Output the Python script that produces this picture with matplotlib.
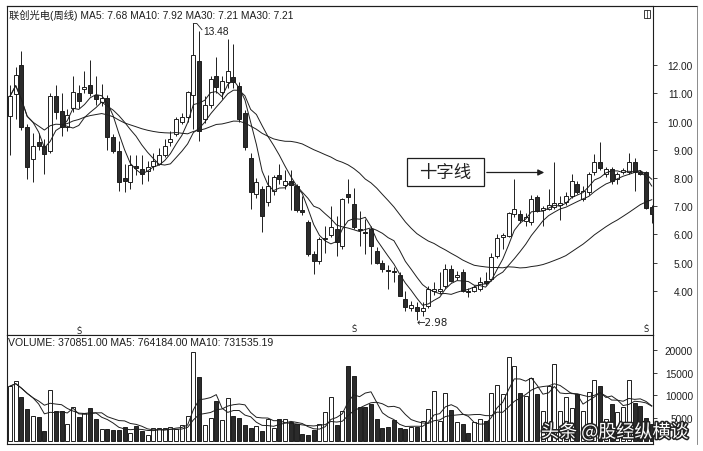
import numpy as np
import pandas as pd
import matplotlib
matplotlib.use('Agg')
import matplotlib.pyplot as plt
from matplotlib.patches import Rectangle, FancyArrowPatch
from matplotlib.lines import Line2D
import matplotlib.patheffects as pe

# ---------------- data (weekly candles) ----------------
opens = [10.2, 10.98, 12.0, 9.8, 8.67, 9.27, 9.15, 8.97, 10.92, 10.39,
         9.8, 10.5, 11.0, 11.15, 11.3, 10.95, 10.7, 10.85, 9.45, 8.95,
         8.0, 7.85, 8.42, 8.32, 8.26, 8.44, 8.5, 8.8, 9.27, 9.56,
         9.97, 10.15, 10.95, 12.15, 10.1, 10.6, 11.63, 11.04, 11.39, 11.57,
         11.25, 10.3, 8.7, 7.43, 7.6, 7.14, 7.55, 8.1, 7.75, 7.9,
         7.73, 6.85, 6.45, 5.3, 5.07, 5.82, 5.98, 6.2, 5.6, 7.42,
         7.08, 6.2, 6.1, 6.2, 5.42, 5.0, 4.72, 4.68, 4.55, 3.71,
         3.38, 3.41, 3.3, 3.47, 4.0, 4.0, 4.18, 4.77, 4.48, 4.65,
         3.98, 4.0, 4.06, 4.32, 4.42, 5.22, 5.9, 5.96, 6.72, 6.72,
         6.49, 6.43, 7.31, 6.88, 6.9, 6.96, 7.06, 7.14, 7.37, 7.8,
         7.26, 7.5, 8.2, 8.56, 8.14, 8.32, 7.97, 8.22, 8.2, 8.56,
         8.22, 8.2, 6.96]
highs = [11.3, 11.95, 12.5, 9.9, 9.6, 9.6, 9.4, 11.0, 11.3, 11.0,
         10.45, 11.63, 11.3, 11.8, 12.2, 11.6, 11.35, 10.95, 9.55, 9.3,
         8.5, 8.8, 8.8, 8.8, 8.6, 8.9, 9.05, 9.4, 9.68, 10.15,
         10.3, 11.1, 13.48, 13.2, 10.9, 11.6, 12.28, 11.6, 12.93, 12.75,
         11.4, 10.4, 8.9, 8.0, 7.7, 8.1, 8.1, 8.5, 8.3, 8.3,
         7.8, 7.35, 6.5, 5.4, 5.9, 6.3, 7.0, 6.66, 7.3, 7.95,
         7.65, 6.84, 6.55, 6.3, 5.55, 5.1, 4.9, 4.85, 4.65, 4.0,
         3.65, 3.6, 3.6, 4.18, 4.3, 4.65, 4.95, 4.9, 4.7, 4.78,
         4.1, 4.2, 4.48, 4.65, 5.35, 6.0, 6.05, 6.8, 7.97, 6.85,
         6.75, 7.4, 7.4, 7.0, 7.6, 8.56, 7.37, 7.5, 8.15, 7.9,
         7.7, 8.2, 8.85, 9.27, 8.4, 8.4, 8.2, 8.35, 8.9, 8.7,
         8.3, 8.25, 7.06]
lows = [8.8, 10.1, 9.7, 7.95, 7.85, 9.0, 8.15, 8.9, 10.1, 9.5,
        9.65, 10.33, 10.5, 11.0, 10.9, 10.6, 10.55, 9.0, 8.9, 7.55,
        7.5, 7.6, 8.1, 7.8, 7.9, 8.3, 8.45, 8.75, 9.15, 9.5,
        9.9, 10.0, 9.75, 9.3, 9.95, 10.5, 11.0, 10.8, 11.2, 11.2,
        10.0, 9.0, 6.9, 7.3, 6.1, 7.0, 7.4, 7.8, 7.6, 6.85,
        6.8, 6.7, 5.25, 4.6, 4.95, 5.35, 5.9, 5.25, 5.5, 7.1,
        6.2, 5.6, 5.3, 4.95, 4.95, 4.65, 4.05, 4.3, 3.8, 3.3,
        3.3, 2.98, 3.1, 3.4, 3.85, 3.9, 4.1, 4.3, 4.4, 3.95,
        3.78, 3.95, 4.0, 4.2, 4.35, 5.15, 5.5, 5.9, 6.6, 6.4,
        6.3, 6.35, 6.8, 6.3, 6.85, 6.9, 6.5, 7.05, 7.3, 7.45,
        7.2, 7.4, 8.1, 8.3, 8.05, 7.78, 7.78, 8.15, 8.15, 7.55,
        8.1, 6.9, 6.4]
closes = [10.9, 11.65, 9.8, 8.4, 9.15, 9.15, 8.85, 10.92, 10.35, 9.8,
          10.25, 11.04, 10.72, 11.22, 11.0, 10.8, 10.85, 9.45, 8.95, 7.85,
          7.9, 8.45, 8.35, 8.14, 8.4, 8.6, 8.8, 9.15, 9.38, 10.09,
          10.15, 11.04, 12.35, 9.65, 10.6, 11.5, 11.22, 11.45, 11.8, 11.39,
          10.1, 9.1, 7.5, 7.86, 6.65, 7.73, 8.02, 7.96, 7.9, 7.75,
          6.85, 6.78, 5.3, 5.07, 5.84, 5.86, 6.25, 5.72, 7.26, 7.32,
          6.25, 6.15, 6.05, 5.6, 5.0, 4.78, 4.7, 4.66, 3.83, 3.41,
          3.5, 3.3, 3.4, 4.06, 4.05, 4.06, 4.77, 4.36, 4.56, 4.0,
          3.95, 4.12, 4.3, 4.28, 5.2, 5.88, 5.97, 6.75, 6.9, 6.5,
          6.6, 7.26, 6.84, 6.92, 7.04, 7.1, 7.1, 7.37, 7.9, 7.5,
          7.55, 8.14, 8.56, 8.34, 8.32, 7.9, 8.14, 8.28, 8.56, 8.2,
          8.14, 6.95, 6.72]
volumes = [12060, 13170, 9620, 7030, 5550, 5180, 2220, 11320, 6660, 6660,
           3700, 7400, 5180, 6140, 7180, 4810, 2500, 2600, 2300, 2440,
           2960, 1700, 3180, 2000, 1330, 2740, 2740, 2740, 2960, 2590,
           3480, 5400, 19700, 14060, 3480, 5030, 8660, 4660, 9400, 5550,
           5030, 3550, 2810, 3330, 2070, 4810, 2740, 4810, 4810, 4070,
           3700, 1480, 1330, 2440, 3700, 6290, 9620, 3480, 6660, 16650,
           14350, 7500, 7500, 8050, 4880, 2780, 2960, 4550, 2780, 2500,
           2960, 3040, 4440, 7030, 10880, 4440, 10650, 6730, 4070, 3620,
           1630, 4070, 4730, 4440, 10650, 12360, 10360, 18500, 16500, 10580,
           9990, 13840, 10360, 6660, 12060, 17020, 6660, 9620, 7250, 10360,
           6500, 10730, 13540, 12210, 4810, 8140, 6290, 7330, 13500, 8300,
           7600, 5000, 3709]

title_text = "联创光电(周线) MA5: 7.68 MA10: 7.92 MA30: 7.21 MA30: 7.21"
vol_text = "VOLUME: 370851.00 MA5: 764184.00 MA10: 731535.19"
price_ticks = [4, 5, 6, 7, 8, 9, 10, 11, 12]
price_labels = [f"{v:.2f}" for v in price_ticks]
vol_ticks = [5000, 10000, 15000, 20000]
vol_labels = [str(v) for v in vol_ticks]
callout_text = "十字线"
watermark = "头条 @股经纵横谈"

# ---------------- figure ----------------
W, H = 703, 452
fig = plt.figure(figsize=(W / 100, H / 100), dpi=100)
fig.patch.set_facecolor('white')
FAM = ['Liberation Sans', 'Noto Sans CJK SC', 'DejaVu Sans']
plt.rcParams['font.family'] = FAM

def fx(x):
    return x / W

def fy(y):
    return 1 - y / H

LEFT, RIGHT, TOP, MID, BOT = 7, 653, 7, 336, 445
ax = fig.add_axes([fx(LEFT), fy(MID), (RIGHT - LEFT) / W, (MID - TOP) / H])
axv = fig.add_axes([fx(LEFT), fy(BOT), (RIGHT - LEFT) / W, (BOT - MID) / H])

n = len(closes)
x = np.arange(n)
o = np.array(opens); c = np.array(closes)
hi = np.array(highs); lo = np.array(lows)
up = c >= o
INK = '#1e1e1e'
DARK = '#2b2b2b'

# wicks
ax.vlines(x, lo, hi, color=INK, lw=0.7, zorder=2)
# bodies
bottom = np.minimum(o, c)
height = np.maximum(np.abs(c - o), 0.05)
ax.bar(x, height, bottom=bottom, width=0.7,
       color=np.where(up, 'white', DARK), edgecolor=INK, linewidth=0.7, zorder=3)

s = pd.Series(closes)
ma5 = s.rolling(5, min_periods=1).mean()
ma10 = s.rolling(10, min_periods=1).mean()
ma30 = s.rolling(30, min_periods=10).mean()
for m in (ma5, ma10, ma30):
    ax.plot(x, m, color=INK, lw=0.7, zorder=4)

xmin = (LEFT - 10) / 5.73
xmax = (RIGHT - 10) / 5.73
ax.set_xlim(xmin, xmax)
ax.set_ylim(8 - (MID - 179) / 28.2, 8 - (TOP - 179) / 28.2)

# volume
vcol = np.where(up, 'white', DARK)
axv.bar(x, volumes, width=0.7, color=vcol, edgecolor=INK, linewidth=0.7, zorder=3)
vs = pd.Series(volumes)
axv.plot(x, vs.rolling(5, min_periods=1).mean(), color=INK, lw=0.7, zorder=4)
axv.plot(x, vs.rolling(10, min_periods=1).mean(), color=INK, lw=0.7, zorder=4)
axv.set_xlim(xmin, xmax)
axv.set_ylim((441.5 - BOT) * 222, (441.5 - MID) * 222)

for a, ticks, labels in ((ax, price_ticks, price_labels), (axv, vol_ticks, vol_labels)):
    a.set_xticks([])
    a.yaxis.tick_right()
    a.set_yticks(ticks)
    a.set_yticklabels(labels)
    a.tick_params(axis='y', direction='out', length=3, width=0.6, color=INK,
                  pad=25.8, labelsize=7.3, labelcolor=INK)
    for t in a.yaxis.get_majorticklabels():
        t.set_horizontalalignment('right')
    for sp in a.spines.values():
        sp.set_color(INK)
        sp.set_linewidth(0.8)

# outer frame to the right
fig.add_artist(Line2D([fx(LEFT), fx(697)], [fy(TOP), fy(TOP)], color=INK, lw=0.8))
fig.add_artist(Line2D([fx(697), fx(697)], [fy(TOP), fy(BOT)], color='#777777', lw=0.6))

# header texts
fig.text(fx(9), fy(15), title_text, fontsize=7.4, color=INK, va='center', ha='left')
fig.text(fx(8), fy(343), vol_text, fontsize=7.6, color=INK, va='center', ha='left')

# small icon at top right of price panel
fig.add_artist(Rectangle((fx(644), fy(19)), 6 / W, 8 / H, fill=False, ec=INK, lw=0.6))
fig.add_artist(Line2D([fx(647), fx(647)], [fy(19), fy(11)], color=INK, lw=0.5))

# max / min annotations
imax = int(np.argmax(hi))
ax.plot([imax, imax + 0.6, imax + 1.5], [hi[imax], hi[imax], hi[imax] - 0.22],
        color=INK, lw=0.6, zorder=5)
ax.text(imax + 1.7, hi[imax] - 0.27, f"{hi[imax]:.2f}", fontsize=7.4, color=INK,
        va='center', ha='left')
imin = int(np.argmin(lo))
ax.text(imin - 0.1, lo[imin] - 0.1, f"←{lo[imin]:.2f}", fontsize=7.4, color=INK,
        va='center', ha='left', family=['DejaVu Sans'])

# S markers
for xi, yy in ((12, 331), (60, 329), (111, 329)):
    ax.text(xi, 8 - (yy - 179) / 28.2, "Ṡ", fontsize=6, color=INK, ha='center',
            va='center', family=['DejaVu Sans'])

# callout box and arrow
fig.add_artist(Rectangle((fx(407), fy(187)), 77 / W, 28 / H, fill=False, ec=INK, lw=0.9))
fig.text(fx(445.5), fy(173), callout_text, fontsize=12.5, color='#222222',
         ha='center', va='center', family=['Noto Sans CJK SC'])
fig.add_artist(FancyArrowPatch((fx(484), fy(173.5)), (fx(547), fy(173.5)),
                               transform=fig.transFigure, arrowstyle='-|>',
                               mutation_scale=9, color=INK, lw=0.9))

# watermark
fig.text(fx(541), fy(433), watermark, fontsize=13, color='white', ha='left', va='center',
         family=['Noto Sans CJK SC'],
         path_effects=[pe.withStroke(linewidth=2.2, foreground='#222222')])

fig.savefig('out.png', dpi=100)
